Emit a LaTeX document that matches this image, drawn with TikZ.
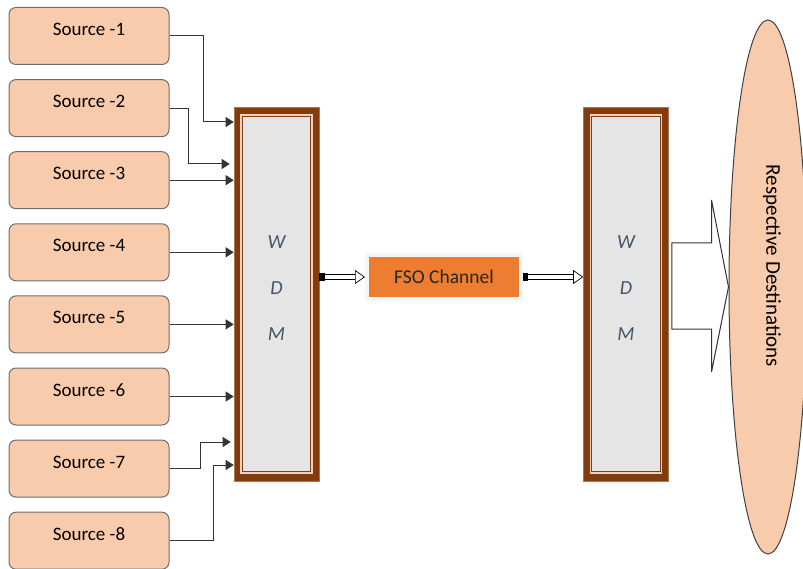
\documentclass[tikz,border=0pt]{standalone}
\usepackage{fontspec}
\setmainfont{Carlito}
\usetikzlibrary{positioning,arrows.meta,shapes.geometric,calc,shadows}
\definecolor{srcfill}{HTML}{F8CBAD}
\definecolor{srcline}{HTML}{6E6E6E}
\definecolor{wdmbrown}{HTML}{843C0C}
\definecolor{wdmlight}{HTML}{EBD3C3}
\definecolor{wdmgray}{HTML}{E5E5E5}
\definecolor{wdmtext}{HTML}{44546A}
\definecolor{fsoorange}{HTML}{ED7D31}
\definecolor{fsoshadow}{HTML}{C9A085}
\definecolor{wire}{HTML}{333333}

\begin{document}
\begin{tikzpicture}[
      x=1pt, y=-1pt,
      node distance=14.1pt,
      src/.style={rectangle, draw=srcline, line width=1pt, rounded corners=7pt, fill=srcfill,
                  minimum width=160pt, minimum height=57pt, text height=14pt, text depth=15pt,
                  font=\fontsize{19}{22}\selectfont},
      wdm/.style={rectangle, fill=wdmbrown, draw=wdmbrown!70, line width=0.6pt,
                  minimum width=85pt, minimum height=374pt},
      wdmin/.style={rectangle, fill=wdmgray, draw=wdmbrown, line width=1.3pt, double=wdmlight,
                    double distance=1.2pt, minimum width=71pt, minimum height=358pt, align=center,
                    text depth=12pt, text=wdmtext, font=\fontsize{20}{46}\selectfont\itshape},
      fso/.style={rectangle, fill=fsoorange, draw=gray!8, line width=4pt, minimum width=154pt,
                  minimum height=44pt, text=black!85, font=\fontsize{19.5}{22}\selectfont,
                  drop shadow={shadow xshift=2pt, shadow yshift=-2.5pt, fill=fsoshadow, opacity=1}},
      dest/.style={ellipse, draw=black!75, line width=1pt, fill=srcfill,
                   minimum width=78pt, minimum height=534pt},
      feed/.style={draw=wire, line width=1pt, -{Triangle[length=8pt,width=10pt]}},
      pipe/.style={draw=black, line width=0.7pt, double=white, double distance=4pt,
                   {Square[length=5pt,width=7pt]}-{Triangle[length=10pt,width=14pt,fill=white,line width=0.7pt]}},
      bigarrow/.style={draw=wire, line width=1pt, fill=white, line join=miter},
    ]
    \useasboundingbox (0,0) rectangle (803,569);

    % sources
    \node[src] (s1) at (89,36) {Source -1};
    \node[src, below=of s1] (s2) {Source -2};
    \node[src, below=of s2] (s3) {Source -3};
    \node[src, below=of s3] (s4) {Source -4};
    \node[src, below=of s4] (s5) {Source -5};
    \node[src, below=of s5] (s6) {Source -6};
    \node[src, below=of s6] (s7) {Source -7};
    \node[src, below=of s7] (s8) {Source -8};

    % mux, channel, demux
    \node[wdm] (w1) at (276.5,294) {};
    \node[wdmin] (w1in) at (w1) {W\\D\\M};
    \node[fso] (fso) at (444,277) {FSO Channel};
    \node[wdm] (w2) at (626,294) {};
    \node[wdmin] (w2in) at (w2) {W\\D\\M};

    \node[dest] (dest) at (768,287) {};
    \node[rotate=-90, font=\fontsize{21}{24}\selectfont] (destlabel) at (772,266) {Respective Destinations};

    \draw[feed] (s1.east) -- ++(34,0) |- (w1.west |- 0,122);
    \draw[feed, shorten >=4pt] (s2.east) -- ++(19,0) |- (w1.west |- 0,164);
    \draw[feed] (s3.east) -- (s3.east -| w1.west);
    \draw[feed] (s4.east) -- (s4.east -| w1.west);
    \draw[feed] (s5.east) -- (s5.east -| w1.west);
    \draw[feed] (s6.east) -- (s6.east -| w1.west);
    \draw[feed, shorten >=3pt] (s7.east) -- ++(31,0) |- (w1.west |- 0,442);
    \draw[feed] (s8.east) -- ++(44,0) |- (w1.west |- 0,465);

    \draw[pipe] (w1.east |- fso.west) -- (fso.west);
    \draw[pipe] (fso.east) -- (fso.east -| w2.west);

    \draw[bigarrow] ($(w2.east |- dest.west)+(3,-44)$) -- ($(dest.west)+(-17,-44)$)
      -- ($(dest.west)+(-17,-87)$) -- (dest.west) -- ($(dest.west)+(-17,85)$)
      -- ($(dest.west)+(-17,42)$) -- ($(w2.east |- dest.west)+(3,42)$) -- cycle;
  \end{tikzpicture}
\end{document}
